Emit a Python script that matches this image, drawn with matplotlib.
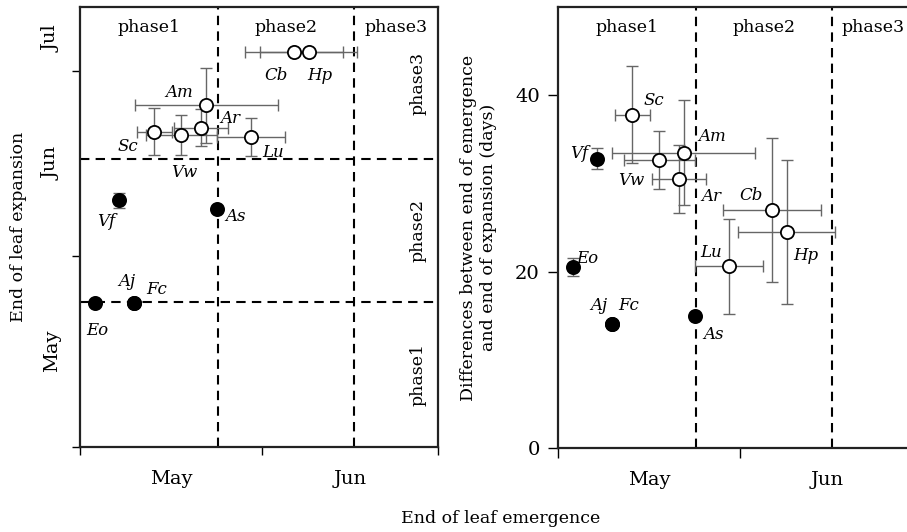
import matplotlib.pyplot as plt
from matplotlib import transforms
from matplotlib.ticker import FixedLocator, FixedFormatter, NullFormatter

plt.rcParams["font.family"] = ["DejaVu Serif"]

# species codes; closed symbols = species finishing emergence early
species = ["Eo", "Aj", "Fc", "Vf", "As", "Sc", "Vw", "Am", "Ar", "Lu", "Cb", "Hp"]
closed = [True, True, True, True, True, False, False, False, False, False, False, False]

# day of year
emergence = [123.6, 130.2, 130.2, 127.7, 144.4, 133.7, 138.3, 142.5, 141.6, 150.2, 157.5, 160.0]
emergence_sd = [0, 0, 0, 0, 0, 3.0, 6.1, 12.2, 4.6, 5.8, 8.3, 8.3]
expansion = [144.4, 144.4, 144.4, 161.0, 159.6, 172.1, 171.6, 176.4, 172.8, 171.3, 185.1, 185.1]
expansion_sd = [0, 0, 0, 1.2, 0, 3.8, 3.3, 6.1, 3.0, 3.1, 0.5, 0.5]

# days between end of emergence and end of expansion
duration = [20.5, 14.0, 14.0, 32.8, 14.9, 37.8, 32.7, 33.5, 30.5, 20.6, 27.0, 24.5]
duration_sd = [1.0, 0, 0, 1.2, 0, 5.5, 3.3, 6.0, 3.9, 5.4, 8.2, 8.2]

phase_bounds = [144.5, 167.7]
phase_names = ["phase1", "phase2", "phase3"]
month_starts = [121, 152, 182, 213]
month_names = ["May", "Jun", "Jul"]

# where each species code sits relative to its symbol (pixels, y up)
left_offsets = {
    "Cb": (-18, -24), "Hp": (11, -24), "Am": (-27, 13), "Ar": (29, 9),
    "Sc": (-27, -15), "Vw": (3, -38), "Lu": (22, -16), "Vf": (-13, -21),
    "As": (18, -8), "Eo": (2, -28), "Aj": (-7, 21), "Fc": (23, 13),
}
right_offsets = {
    "Sc": (21, 14), "Vf": (-18, 5), "Vw": (-28, -21), "Am": (28, 16),
    "Ar": (33, -17), "Cb": (-21, 14), "Hp": (19, -24), "Lu": (-18, 14),
    "Eo": (14, 9), "Aj": (-13, 19), "Fc": (17, 19), "As": (18, -18),
}

XLIM = (121, 182)
YLIM_LEFT = (121, 192.3)
YLIM_RIGHT = (0, 50)


def month_ticks(axis, lo, hi):
    majors = [m for m in month_starts if lo <= m <= hi]
    mids, names = [], []
    for start, end, name in zip(month_starts[:-1], month_starts[1:], month_names):
        a, b = max(start, lo), min(end, hi)
        if b > a:
            mids.append((a + b) / 2)
            names.append(name)
    axis.set_major_locator(FixedLocator(majors))
    axis.set_major_formatter(NullFormatter())
    axis.set_minor_locator(FixedLocator(mids))
    axis.set_minor_formatter(FixedFormatter(names))


def draw_points(ax, xs, ys, xerr, yerr, offsets):
    ax.errorbar(xs, ys, xerr=xerr, yerr=yerr, fmt="none", ecolor="0.4",
                elinewidth=1.0, capsize=4, capthick=1.0, zorder=2)
    for x, y, name, filled in zip(xs, ys, species, closed):
        ax.plot(x, y, "o", ms=9.5, mec="black", mew=1.3,
                mfc="black" if filled else "white", zorder=3)
        dx, dy = offsets[name]
        ax.annotate(name, (x, y), xytext=(dx, dy), textcoords="offset pixels",
                    ha="center", va="center", fontsize=12, style="italic", zorder=4)


def style_frame(ax):
    for sp in ax.spines.values():
        sp.set_linewidth(1.6)
        sp.set_color("#222222")


fig = plt.figure(figsize=(9.07, 5.32), dpi=100)
ax1 = fig.add_axes([0.0882, 0.1603, 0.3944, 0.8259])
ax2 = fig.add_axes([0.6152, 0.1585, 0.3941, 0.8278])

dash = dict(color="black", lw=1.5, ls=(0, (4.5, 3)), zorder=1)

# left: end of emergence vs end of expansion
for b in phase_bounds:
    ax1.axvline(b, **dash)
    ax1.axhline(b, **dash)
draw_points(ax1, emergence, expansion, emergence_sd, expansion_sd, left_offsets)
ax1.set_xlim(*XLIM)
ax1.set_ylim(*YLIM_LEFT)
month_ticks(ax1.xaxis, *XLIM)
month_ticks(ax1.yaxis, *YLIM_LEFT)
ax1.tick_params(which="major", length=6, width=1.0, direction="out")
ax1.tick_params(which="minor", length=0, labelsize=14)
ax1.tick_params(axis="x", which="minor", pad=17)
ax1.tick_params(axis="y", which="minor", pad=14, labelrotation=90)
for lbl in ax1.get_yticklabels(minor=True):
    lbl.set_va("center")
ax1.set_ylabel("End of leaf expansion", fontsize=12.5)
ax1.yaxis.set_label_coords(-0.148, 0.5)
style_frame(ax1)

xedges = [XLIM[0]] + phase_bounds + [XLIM[1]]
yedges = [YLIM_LEFT[0]] + phase_bounds + [YLIM_LEFT[1]]
top1 = transforms.blended_transform_factory(ax1.transData, ax1.transAxes)
side1 = transforms.blended_transform_factory(ax1.transAxes, ax1.transData)
for i, name in enumerate(phase_names):
    ax1.text((xedges[i] + xedges[i + 1]) / 2, 0.953, name, transform=top1,
             ha="center", va="center", fontsize=12.5)
    ax1.text(0.945, (yedges[i] + yedges[i + 1]) / 2, name, transform=side1,
             ha="center", va="center", rotation=90, fontsize=12.5)

# right: length of expansion period vs end of emergence
for b in phase_bounds:
    ax2.axvline(b, **dash)
draw_points(ax2, emergence, duration, emergence_sd, duration_sd, right_offsets)
ax2.set_xlim(*XLIM)
ax2.set_ylim(*YLIM_RIGHT)
month_ticks(ax2.xaxis, *XLIM)
ax2.set_yticks([0, 20, 40])
ax2.tick_params(which="major", length=7, width=1.0, direction="out", labelsize=14)
ax2.tick_params(axis="y", which="major", pad=6)
ax2.tick_params(which="minor", length=0, labelsize=14)
ax2.tick_params(axis="x", which="minor", pad=17)
ax2.set_ylabel("Differences between end of emergence\nand end of expansion (days)",
               fontsize=12.5)
ax2.yaxis.set_label_coords(-0.171, 0.5)
style_frame(ax2)

top2 = transforms.blended_transform_factory(ax2.transData, ax2.transAxes)
for i, name in enumerate(phase_names):
    ax2.text((xedges[i] + xedges[i + 1]) / 2, 0.953, name, transform=top2,
             ha="center", va="center", fontsize=12.5)

fig.text(0.5524, 0.026, "End of leaf emergence", ha="center", va="center", fontsize=12.5)

fig.savefig("out.png", dpi=100)
